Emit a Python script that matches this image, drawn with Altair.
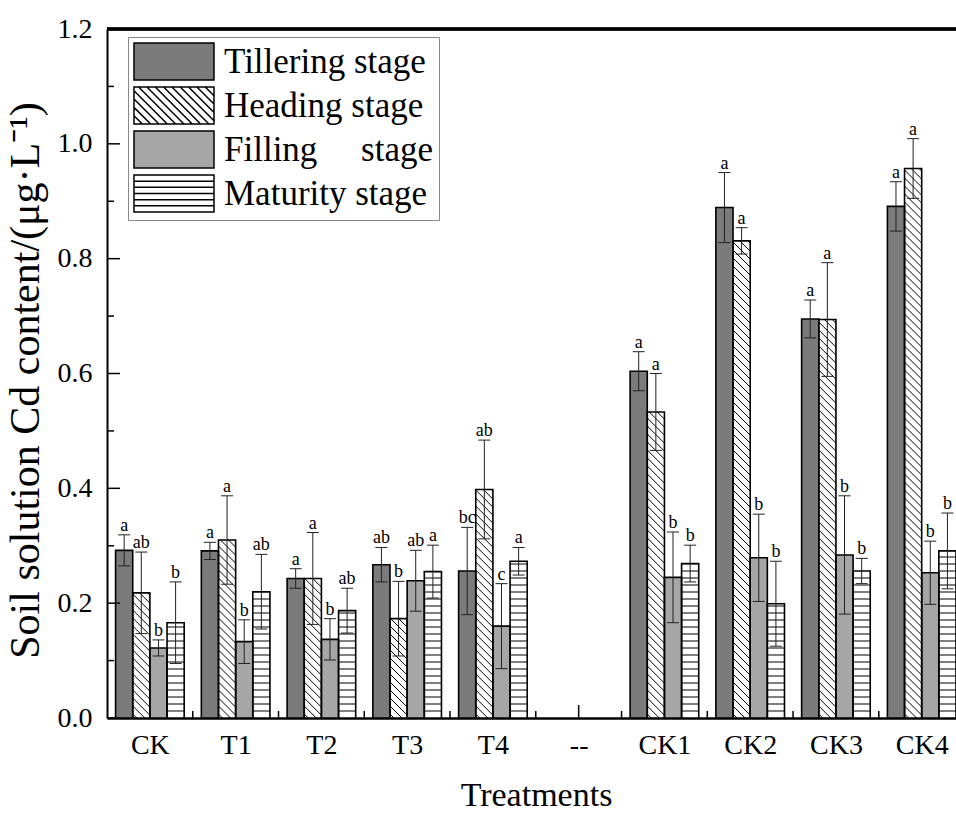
import altair as alt
import pandas as pd

# ---------------- data ----------------
categories = ['CK', 'T1', 'T2', 'T3', 'T4', '--', 'CK1', 'CK2', 'CK3', 'CK4']
stages = ['Tillering stage', 'Heading stage', 'Filling stage', 'Maturity stage']
groups = ['CK', 'T1', 'T2', 'T3', 'T4', 'CK1', 'CK2', 'CK3', 'CK4']

tillering = [0.292, 0.291, 0.243, 0.267, 0.256, 0.604, 0.889, 0.695, 0.891]
tillering_err = [0.027, 0.015, 0.017, 0.030, 0.076, 0.034, 0.061, 0.033, 0.043]
heading = [0.218, 0.310, 0.243, 0.173, 0.398, 0.533, 0.831, 0.694, 0.957]
heading_err = [0.071, 0.077, 0.080, 0.065, 0.086, 0.067, 0.023, 0.099, 0.052]
filling = [0.122, 0.133, 0.137, 0.239, 0.160, 0.245, 0.279, 0.284, 0.253]
filling_err = [0.014, 0.038, 0.036, 0.053, 0.074, 0.079, 0.076, 0.103, 0.055]
maturity = [0.166, 0.220, 0.187, 0.255, 0.273, 0.269, 0.199, 0.256, 0.291]
maturity_err = [0.071, 0.065, 0.039, 0.046, 0.024, 0.032, 0.074, 0.022, 0.066]

tillering_sig = ['a', 'a', 'a', 'ab', 'bc', 'a', 'a', 'a', 'a']
heading_sig = ['ab', 'a', 'a', 'b', 'ab', 'a', 'a', 'a', 'a']
filling_sig = ['b', 'b', 'b', 'ab', 'c', 'b', 'b', 'b', 'b']
maturity_sig = ['b', 'ab', 'ab', 'a', 'a', 'b', 'b', 'b', 'b']

y_tick_values = [0.0, 0.2, 0.4, 0.6, 0.8, 1.0, 1.2]
y_minor_values = [0.1, 0.3, 0.5, 0.7, 0.9, 1.1]

# ---------------- table ----------------
series = [
    (tillering, tillering_err, tillering_sig),
    (heading, heading_err, heading_sig),
    (filling, filling_err, filling_sig),
    (maturity, maturity_err, maturity_sig),
]
rows = []
for si, (vals, errs, sigs) in enumerate(series):
    for g, v, e, s in zip(groups, vals, errs, sigs):
        rows.append({'cat': g, 'gi': categories.index(g), 'stage': stages[si],
                     'si': si, 'value': v, 'err': e, 'sig': s})
df = pd.DataFrame(rows)

bounds = pd.DataFrame({'b': [i + 0.5 for i in range(len(categories) - 1)]})
mid_tick = pd.DataFrame({'b': [float(categories.index('--'))]})
ymaj = pd.DataFrame({'t': y_tick_values})
ymin = pd.DataFrame({'t': y_minor_values})

# ---------------- layout / style ----------------
W, H = 849, 689
XMIN, XMAX = -0.5, 9.4
YMAX = 1.2
PXX = W / (XMAX - XMIN)
PXY = H / YMAX
BAR = 0.2
BWPX = BAR * PXX
CAP = 6.0 / PXX
FONT = 'Liberation Serif'
fill_colors = ['#7b7b7b', '#ffffff', '#a6a6a6', '#ffffff']

xs = alt.Scale(domain=[XMIN, XMAX], nice=False, zero=False)
ys = alt.Scale(domain=[0, YMAX], nice=False, zero=True)

color_expr = ("datum.si == 0 ? '%s' : datum.si == 1 ? '%s' : datum.si == 2 ? '%s' : '%s'"
              % tuple(fill_colors))

base = alt.Chart(df).transform_calculate(
    xl=f'datum.gi - 0.4 + {BAR} * datum.si',
    xr=f'datum.gi - 0.4 + {BAR} * datum.si + {BAR}',
    xc=f'datum.gi - 0.4 + {BAR} * datum.si + {BAR / 2}',
    top='datum.value + datum.err',
    bot='datum.value - datum.err',
    fc=color_expr,
)

label_expr = '[' + ','.join("'%s'" % c for c in categories) + '][datum.value]'

x_axis = alt.Axis(values=list(range(len(categories))), labelExpr=label_expr,
                  ticks=False, tickSize=0, grid=False, labelPadding=13,
                  labelFont=FONT, labelFontSize=28, labelColor='black',
                  labelFlush=False, labelOverlap=False,
                  domainColor='black', domainWidth=2.5,
                  title='Treatments', titleFont=FONT, titleFontSize=34,
                  titleFontWeight='normal', titleColor='black',
                  titleX=429, titleY=87, titleBaseline='alphabetic', titleAlign='center')
y_axis = alt.Axis(values=y_tick_values, format='.1f', ticks=False, tickSize=0,
                  grid=False, labelPadding=15, labelFont=FONT, labelFontSize=28,
                  labelColor='black', labelFlush=False, labelOverlap=False,
                  domainColor='black', domainWidth=2,
                  title='Soil solution Cd content/(\u03bcg\u00b7L\u207b\u00b9)',
                  titleFont=FONT, titleFontSize=42, titleFontWeight='normal',
                  titleColor='black', titleX=-69, titleY=351,
                  titleBaseline='alphabetic', titleAlign='center', titleAngle=-90)

bars = base.mark_rect(clip=True).encode(
    x=alt.X('xl:Q', scale=xs, axis=x_axis),
    x2='xr:Q',
    y=alt.Y('value:Q', scale=ys, axis=y_axis),
    y2=alt.datum(0),
    fill=alt.Fill('fc:N', scale=None),
)

# horizontal hatch (maturity)
STEP = 7.0 / PXY
mat_hatch = base.transform_filter('datum.si == 3').transform_calculate(
    hy=f'sequence({STEP}, datum.value, {STEP})'
).transform_flatten(['hy']).mark_rule(color='black', strokeWidth=1, clip=True).encode(
    x='xl:Q', x2='xr:Q', y='hy:Q')

# diagonal hatch (heading)
SP = 8.0
head_hatch = base.transform_filter('datum.si == 1').transform_calculate(
    hpx=f'datum.value * {PXY}'
).transform_calculate(
    cs=f'sequence({SP / 2}, datum.hpx + {BWPX}, {SP})'
).transform_flatten(['cs']).transform_calculate(
    u0='max(0, datum.cs - datum.hpx)',
    u1=f'min({BWPX}, datum.cs)'
).transform_filter('datum.u1 > datum.u0 + 0.3').transform_calculate(
    hx1=f'datum.xl + datum.u0 / {PXX}',
    hx2=f'datum.xl + datum.u1 / {PXX}',
    hy1=f'(datum.cs - datum.u0) / {PXY}',
    hy2=f'(datum.cs - datum.u1) / {PXY}',
).mark_rule(color='black', strokeWidth=1, clip=True).encode(
    x='hx1:Q', x2='hx2:Q', y='hy1:Q', y2='hy2:Q')

outline = base.mark_rect(fill='transparent', stroke='black', strokeWidth=1.6, clip=True).encode(
    x='xl:Q', x2='xr:Q', y='value:Q', y2=alt.datum(0))

err_v = base.mark_rule(color='#222222', strokeWidth=1, clip=True).encode(
    x='xc:Q', y='bot:Q', y2='top:Q')
caps = base.transform_calculate(
    cl=f'datum.xc - {CAP}', cr=f'datum.xc + {CAP}'
).transform_fold(['top', 'bot'], as_=['end', 'ey']).mark_rule(
    color='#222222', strokeWidth=1, clip=True).encode(
    x='cl:Q', x2='cr:Q', y='ey:Q')

letters = base.mark_text(font=FONT, fontSize=18, dy=-4, baseline='alphabetic',
                         color='black', clip=True).encode(
    x='xc:Q', y='top:Q', text='sig:N')

# legend symbols (custom paths)
SW = 80.0 / 37.0 * 2 - 1  # right x in unit coords
rect_path = f'M-1,-1H{SW:.3f}V1H-1Z'
diag = []
k = -2.0
while k < SW + 1:
    xa, xb = max(-1.0, k - 1), min(SW, k + 1)
    if xb > xa:
        diag.append(f'M{xa:.3f},{xa - k:.3f}L{xb:.3f},{xb - k:.3f}')
    k += 0.45
horiz = ''.join(f'M-1,{-1 + j / 3:.3f}H{SW:.3f}' for j in range(1, 6))
shapes = [rect_path, rect_path + ''.join(diag), rect_path, rect_path + horiz]

leg = alt.Legend(title=None, orient='none', legendX=21, legendY=8,
                 symbolSize=37 * 37, symbolStrokeColor='black', symbolStrokeWidth=1.5,
                 symbolOpacity=1, labelFont=FONT, labelFontSize=35, labelColor='black',
                 labelOffset=52, labelLimit=500, rowPadding=1, padding=5,
                 strokeColor='#888888', fillColor='white',
                 labelExpr="datum.label == 'Filling stage' ? 'Filling\u00a0\u00a0\u00a0\u00a0\u00a0stage' : datum.label")

legend_pts = base.mark_point(filled=True, opacity=0, strokeWidth=1.5).encode(
    x='xc:Q', y='value:Q',
    fill=alt.Fill('stage:N', scale=alt.Scale(domain=stages, range=fill_colors), legend=leg),
    shape=alt.Shape('stage:N', scale=alt.Scale(domain=stages, range=shapes), legend=leg),
    stroke=alt.Stroke('stage:N', scale=alt.Scale(domain=stages, range=['black'] * 4), legend=leg),
)

# inward ticks and frame
xt = alt.Chart(bounds).mark_rule(color='black', strokeWidth=1.5).encode(
    x='b:Q', y=alt.value(H), y2=alt.value(H - 7))
xt_mid = alt.Chart(mid_tick).mark_rule(color='black', strokeWidth=1.5).encode(
    x='b:Q', y=alt.value(H), y2=alt.value(H - 13))
yt_major = alt.Chart(ymaj).mark_rule(color='black', strokeWidth=1.5).encode(
    y='t:Q', x=alt.value(0), x2=alt.value(13))
yt_minor = alt.Chart(ymin).mark_rule(color='black', strokeWidth=1.5).encode(
    y='t:Q', x=alt.value(0), x2=alt.value(7))
top_line = alt.Chart(ymaj).mark_rule(color='black', strokeWidth=2.5).encode(
    y=alt.value(0), x=alt.value(0), x2=alt.value(W))

chart = alt.layer(
    bars, mat_hatch, head_hatch, outline, err_v, caps, letters, legend_pts,
    xt, xt_mid, yt_major, yt_minor, top_line
).properties(
    width=W, height=H,
    autosize=alt.AutoSizeParams(type='none'),
    padding={'left': 107, 'top': 29, 'right': 0, 'bottom': 96},
    background='white',
).configure_view(stroke=None)

chart.save('out.html', embed_options={'renderer': 'svg', 'actions': False})
